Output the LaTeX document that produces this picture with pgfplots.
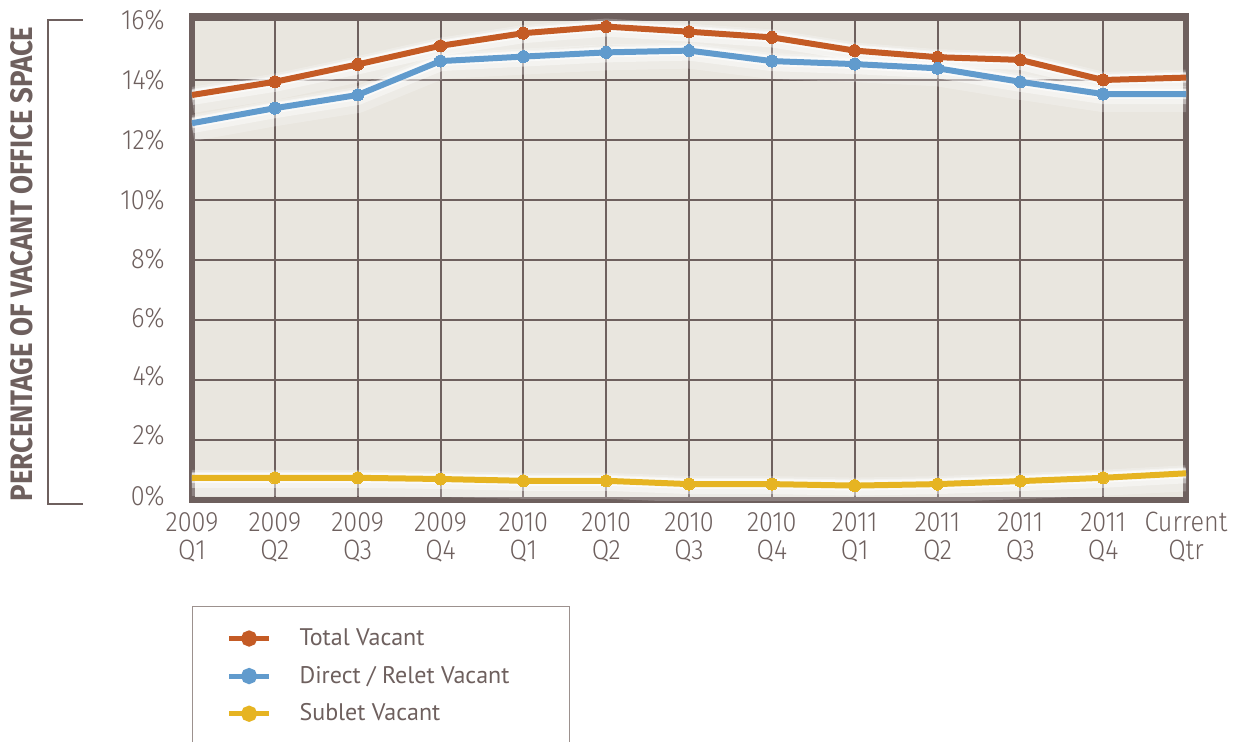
\documentclass[border=0pt]{standalone}
\usepackage{fontspec}
\usepackage{pgfplots}
\usepackage{pgfplotstable}
\pgfplotsset{compat=1.18}

\setmainfont{Fira Sans}
\IfFontExistsTF{Fira Sans Light}
  {\newfontfamily\tickfont{Fira Sans Light}[FakeStretch=0.9]}
  {\newfontfamily\tickfont{Fira Sans}[FakeStretch=0.9]}
\newfontfamily\titlefont{Fira Sans}[FakeStretch=0.89]
\newfontfamily\legendfont{PT Sans}

\definecolor{framec}{HTML}{6E605E}
\definecolor{textc}{HTML}{6E605E}
\definecolor{bgc}{HTML}{E9E6DF}
\definecolor{totalc}{HTML}{C45B25}
\definecolor{directc}{HTML}{619BCD}
\definecolor{subletc}{HTML}{E6B422}
\definecolor{legframe}{HTML}{9C918E}

% quarterly vacancy rates, percent of office space
\pgfplotstableread{
x  total  direct  sublet
0  13.50  12.56   0.74
1  13.94  13.06   0.74
2  14.52  13.50   0.74
3  15.14  14.63   0.70
4  15.56  14.78   0.64
5  15.78  14.92   0.64
6  15.61  14.98   0.53
7  15.42  14.63   0.53
8  14.98  14.53   0.48
9  14.76  14.39   0.53
10 14.67  13.94   0.63
11 14.00  13.53   0.74
12 14.08  13.53   0.89
}\vacancy

\newcommand{\legtext}[1]{\makebox[132pt][l]{\hspace{14pt}#1}}

\pgfplotsset{
  glow/.style={forget plot, white, no marks, line join=round},
}

\begin{document}
\begin{tikzpicture}
\useasboundingbox (-96pt,-120.5pt) rectangle (523pt,250pt);
\begin{axis}[
  at={(0,0)}, anchor=south west,
  scale only axis, width=497pt, height=242pt,
  xmin=0, xmax=12, ymin=0, ymax=16.133,
  xtick={0,...,12}, ytick={0,2,...,16},
  major tick length=0pt,
  grid=major,
  major grid style={line width=1pt, color=framec},
  axis line style={line width=3pt, color=framec},
  axis background/.style={fill=bgc},
  tick label style={font=\tickfont\fontsize{14}{14}\selectfont, text=textc, inner sep=0pt},
  yticklabel style={anchor=east, xshift=-13.5pt},
  xticklabel style={anchor=north, align=center, yshift=-6pt},
  yticklabels={\raisebox{4.5pt}{0\%},\raisebox{5pt}{2\%},\raisebox{3.9pt}{4\%},\raisebox{2.5pt}{6\%},\raisebox{1.2pt}{8\%},10\%,12\%,14\%,\raisebox{-0.5pt}{16\%}},
  xticklabels={{2009\\Q1},{2009\\Q2},{2009\\Q3},{2009\\Q4},{2010\\Q1},{2010\\Q2},{2010\\Q3},{2010\\Q4},{2011\\Q1},{2011\\Q2},{2011\\Q3},{2011\\Q4},{Current\\Qtr}},
  legend style={at={(0,-0.219)}, anchor=north west, draw=legframe, line width=0.6pt,
    fill=white, inner xsep=17pt, inner ysep=11pt, row sep=8.8pt,
    nodes={inner sep=0pt}, font=\legendfont\fontsize{12}{14}\selectfont, text=textc},
  legend cell align=left,
  legend image code/.code={
    \draw[line width=2.5pt] (0pt,0pt) -- (20pt,0pt);
    \fill (10pt,0pt) circle (2.5pt);
  },
]
% soft white glow under each line, heavier below
\addplot[glow, opacity=0.22, line width=13pt, yshift=-2.5pt] table[x=x,y=total]{\vacancy};
\addplot[glow, opacity=0.22, line width=13pt, yshift=-2.5pt] table[x=x,y=direct]{\vacancy};
\addplot[glow, opacity=0.22, line width=13pt, yshift=-2.5pt] table[x=x,y=sublet]{\vacancy};
\addplot[glow, opacity=0.4, line width=8pt, yshift=-1pt] table[x=x,y=total]{\vacancy};
\addplot[glow, opacity=0.4, line width=8pt, yshift=-1pt] table[x=x,y=direct]{\vacancy};
\addplot[glow, opacity=0.4, line width=8pt, yshift=-1pt] table[x=x,y=sublet]{\vacancy};
\addplot[glow, opacity=0.6, line width=5pt] table[x=x,y=total]{\vacancy};
\addplot[glow, opacity=0.6, line width=5pt] table[x=x,y=direct]{\vacancy};
\addplot[glow, opacity=0.6, line width=5pt] table[x=x,y=sublet]{\vacancy};

\addplot[color=totalc, line width=3pt, mark=*, mark size=3pt, mark indices={2,...,12}, mark options={line width=0pt}]
  table[x=x,y=total]{\vacancy};
\addlegendentry{\legtext{Total Vacant}}
\addplot[color=directc, line width=3pt, mark=*, mark size=3pt, mark indices={2,...,12}, mark options={line width=0pt}]
  table[x=x,y=direct]{\vacancy};
\addlegendentry{\legtext{Direct / Relet Vacant}}
\addplot[color=subletc, line width=3pt, mark=*, mark size=3pt, mark indices={2,...,12}, mark options={line width=0pt}]
  table[x=x,y=sublet]{\vacancy};
\addlegendentry{\legtext{Sublet Vacant}}
\addlegendimage{empty legend}
\addlegendentry{}
\end{axis}
\node[rotate=90, text=textc, font=\titlefont\bfseries\fontsize{15.5}{15.5}\selectfont]
  at (-85pt,118pt) {PERCENTAGE OF VACANT OFFICE SPACE};
\draw[framec, line width=1pt] (-54.5pt,240pt) -- (-72pt,240pt) -- (-72pt,-2pt) -- (-54.5pt,-2pt);
\end{tikzpicture}
\end{document}
